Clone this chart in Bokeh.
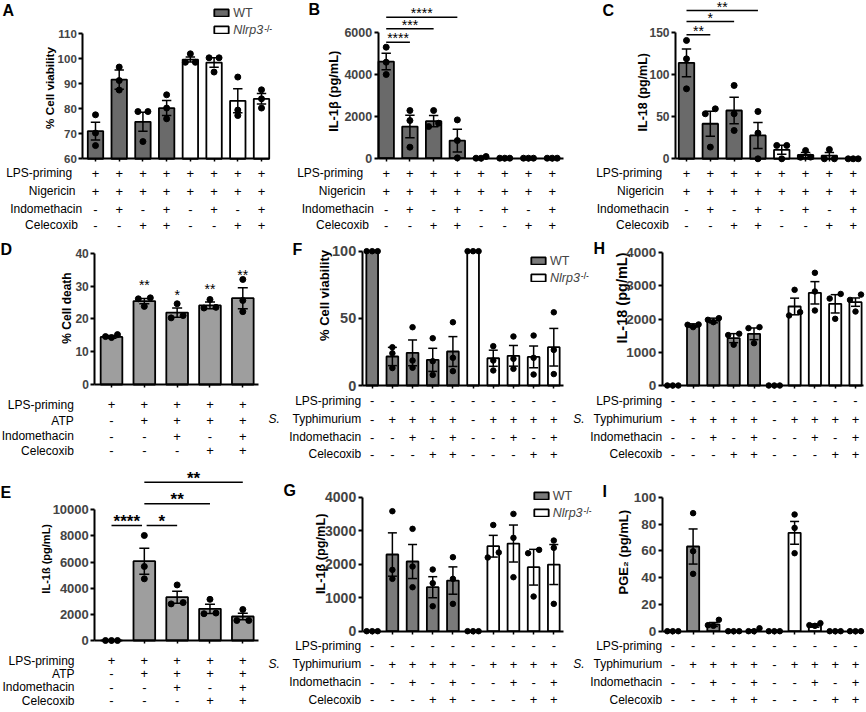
import math
from bokeh.plotting import figure
from bokeh.models import Range1d, LinearAxis, FixedTicker, ColumnDataSource, Legend, LegendItem
from bokeh.core.properties import value
from bokeh.embed import file_html
from bokeh.resources import INLINE

W, H = 866, 712
FONT = "Liberation Sans"

# ---------------- data ----------------
ROWS_NIG = ["LPS-priming", "Nigericin", "Indomethacin", "Celecoxib"]
SIGNS_NIG = [["+"] * 8, ["+"] * 8,
             ["-", "+", "-", "+", "-", "+", "-", "+"],
             ["-", "-", "+", "+", "-", "-", "+", "+"]]
ROWS_ATP = ["LPS-priming", "ATP", "Indomethacin", "Celecoxib"]
SIGNS_ATP = [["+"] * 5, ["-", "+", "+", "+", "+"],
             ["-", "-", "+", "-", "+"], ["-", "-", "-", "+", "+"]]
ROWS_STM = ["LPS-priming", "Typhimurium", "Indomethacin", "Celecoxib"]
SIGNS_STM = [["-"] * 10,
             ["-", "+", "+", "+", "+", "-", "+", "+", "+", "+"],
             ["-", "-", "+", "-", "+", "-", "-", "+", "-", "+"],
             ["-", "-", "-", "+", "+", "-", "-", "-", "+", "+"]]
GENO_8 = ["WT"] * 4 + ["Nlrp3"] * 4
GENO_5 = ["WT"] * 5
GENO_10 = ["WT"] * 5 + ["Nlrp3"] * 5

A_mean = [71.1, 91.7, 74.8, 80.3, 99.7, 98.5, 83.2, 84.0]
A_sem = [3.55, 3.85, 3.8, 3.0, 1.0, 1.9, 4.8, 2.1]
A_pts = [[77.6, 70.3, 65.3], [96.7, 91.3, 87.5], [78.9, 78.9, 66.9], [85.6, 80.3, 76.0],
         [102.0, 98.6, 98.6], [100.4, 100.4, 94.7], [92.7, 79.5, 77.3], [87.6, 84.0, 80.3]]
A_ticks = [60, 70, 80, 90, 100, 110]

B_mean = [4603, 1508, 1762, 841, 27, 0, 0, 0]
B_sem = [397, 532, 270, 540, 27, 0, 0, 0]
B_pts = [[5286, 4571, 3986], [2270, 1794, 524], [2270, 1508, 1667], [1825, 841, 16],
         [0, 80, 0], [0, 0, 0], [0, 0, 0], [0, 0, 0]]
B_ticks = [0, 2000, 4000, 6000]
B_sig = [(1, 2, "****"), (1, 3, "***"), (1, 4, "****")]

C_mean = [114.3, 41.7, 57.5, 27.8, 10.7, 4.5, 3.7, 0]
C_sem = [16.5, 14.9, 15.9, 15.5, 5.3, 3.0, 3.7, 0]
C_pts = [[140.9, 119.0, 83.3], [59.5, 53.6, 13.9], [87.3, 53.6, 33.7], [56.3, 30.6, 0],
         [15.9, 15.9, 0], [9.9, 2.0, 1.8], [11.1, 0, 0], [0, 0, 0]]
C_ticks = [0, 50, 100, 150]
C_sig = [(1, 2, "**"), (1, 3, "*"), (1, 4, "**")]

D_mean = [14.5, 25.4, 21.9, 24.1, 26.3]
D_sem = [0.4, 0.8, 1.4, 1.0, 3.2]
D_pts = [[14.6, 15.2, 14.3], [26.4, 26.1, 23.8], [24.6, 21.0, 20.3], [25.9, 23.5, 23.3],
         [32.0, 25.6, 22.2]]
D_ticks = [0, 10, 20, 30, 40]
D_stars = ["", "**", "*", "**", "**"]

E_mean = [0, 6071, 3316, 2423, 1837]
E_sem = [0, 995, 460, 357, 255]
E_pts = [[0, 0, 0], [8036, 5663, 4719], [4250, 2900, 2800], [3150, 2100, 2050],
         [2372, 1531, 1531]]
E_ticks = [0, 2000, 4000, 6000, 8000, 10000]
E_sig = [(1, 2, "****"), (2, 3, "*"), (2, 4, "**"), (2, 5, "**")]

F_mean = [100, 21.6, 24.3, 19.1, 25.3, 100, 20.3, 22.1, 21.3, 28.5]
F_sem = [0, 6.8, 9.6, 8.6, 11.1, 0, 6.0, 7.7, 8.1, 14.0]
F_pts = [[100, 100, 100], [28.5, 24.0, 13.0], [43.4, 18.6, 13.2], [35.2, 18.1, 7.9],
         [47.1, 20.6, 10.7], [100, 100, 100], [29.3, 18.6, 11.2], [36.5, 19.9, 12.4],
         [37.2, 20.6, 8.2], [54.5, 26.5, 8.5]]
F_ticks = [0, 50, 100]

G_mean = [0, 2289, 2080, 1313, 1512, 0, 2537, 2617, 1910, 1990]
G_sem = [0, 647, 508, 314, 408, 0, 324, 552, 533, 597]
G_pts = [[0, 0, 0], [3582, 1831, 1562], [3055, 1930, 1313], [1841, 1433, 746],
         [2209, 1562, 816], [0, 0, 0], [3170, 2350, 2200], [3502, 2786, 1612],
         [2428, 2328, 1035], [2706, 2488, 816]]
G_ticks = [0, 1000, 2000, 3000, 4000]

H_mean = [0, 1809, 1960, 1427, 1558, 0, 2382, 2794, 2462, 2513]
H_sem = [0, 50, 70, 136, 176, 0, 251, 337, 276, 126]
H_pts = [[0, 0, 0], [1760, 1840, 1830], [1910, 1980, 2030], [1560, 1520, 1230],
         [1759, 1729, 1276], [0, 0, 0], [2884, 2111, 2211], [3397, 2834, 2261],
         [2760, 2620, 2010], [2740, 2580, 2230]]
H_ticks = [0, 1000, 2000, 3000, 4000]

I_mean = [0, 63.2, 5.0, 0, 0.5, 0, 73.4, 4.2, 0, 0]
I_sem = [0, 13.1, 1.5, 0, 0.5, 0, 8.5, 1.2, 0, 0]
I_pts = [[0, 0, 0], [88.1, 59.7, 42.8], [8.5, 4.0, 4.5], [0, 0, 0], [2.2, 0, 0],
         [0, 0, 0], [87.1, 77.1, 58.2], [6.0, 4.0, 4.5], [0, 0, 0], [0, 0, 0]]
I_ticks = [0, 20, 40, 60, 80, 100]

PANELS = [
    dict(name="A", mean=A_mean, sem=A_sem, pts=A_pts, ticks=A_ticks, geno=GENO_8,
         rows=ROWS_NIG, signs=SIGNS_NIG, ylabel="% Cell viability"),
    dict(name="B", mean=B_mean, sem=B_sem, pts=B_pts, ticks=B_ticks, geno=GENO_8,
         rows=ROWS_NIG, signs=SIGNS_NIG, ylabel="IL-1β (pg/mL)", sig=B_sig),
    dict(name="C", mean=C_mean, sem=C_sem, pts=C_pts, ticks=C_ticks, geno=GENO_8,
         rows=ROWS_NIG, signs=SIGNS_NIG, ylabel="IL-18 (pg/mL)", sig=C_sig),
    dict(name="D", mean=D_mean, sem=D_sem, pts=D_pts, ticks=D_ticks, geno=GENO_5,
         rows=ROWS_ATP, signs=SIGNS_ATP, ylabel="% Cell death", stars=D_stars),
    dict(name="E", mean=E_mean, sem=E_sem, pts=E_pts, ticks=E_ticks, geno=GENO_5,
         rows=ROWS_ATP, signs=SIGNS_ATP, ylabel="IL-1ß (pg/mL)", sig=E_sig),
    dict(name="F", mean=F_mean, sem=F_sem, pts=F_pts, ticks=F_ticks, geno=GENO_10,
         rows=ROWS_STM, signs=SIGNS_STM, ylabel="% Cell viability"),
    dict(name="G", mean=G_mean, sem=G_sem, pts=G_pts, ticks=G_ticks, geno=GENO_10,
         rows=ROWS_STM, signs=SIGNS_STM, ylabel="IL-1β (pg/mL)"),
    dict(name="H", mean=H_mean, sem=H_sem, pts=H_pts, ticks=H_ticks, geno=GENO_10,
         rows=ROWS_STM, signs=SIGNS_STM, ylabel="IL-18 (pg/mL)"),
    dict(name="I", mean=I_mean, sem=I_sem, pts=I_pts, ticks=I_ticks, geno=GENO_10,
         rows=ROWS_STM, signs=SIGNS_STM, ylabel="PGE₂ (pg/mL)"),
]

# ---------------- layout / style (page pixels) ----------------
ROWS_TOP = [172.7, 190.7, 208.7, 224.5]
LAYOUT = {
    "A": dict(axis_x=82.3, c1=95, cn=261, xend=269, y0=158.3, ytop=33.3, rows_y=ROWS_TOP,
              row_right=[71.7, 75, 81.7, 77.3], ylab=(49, 87.5, 11.7), letter=(2, 10),
              tick_fs=11.5, wt="#6a6a6a", bw=0.65, dot=6, cap=4.7, jit=5.0,
              legend=(212.3, 10, 27.3)),
    "B": dict(axis_x=377.7, c1=385.7, cn=551.7, xend=563.3, y0=157.7, ytop=31.7, rows_y=ROWS_TOP,
              row_right=[362.7, 365, 373.3, 368.3], ylab=(332.5, 90.8, 12.8), letter=(308, 9),
              tick_fs=12.5, wt="#6a6a6a", bw=0.65, dot=6, cap=4.7, jit=5.0,
              levels=[41.7, 28.3, 16.7], star_fs=14, star_bold=False),
    "C": dict(axis_x=675, c1=686, cn=852.7, xend=860, y0=158.3, ytop=32.3, rows_y=ROWS_TOP,
              row_right=[661.7, 663.3, 668.3, 668.3], ylab=(642.5, 91.7, 12.5), letter=(602, 10),
              tick_fs=12, wt="#6a6a6a", bw=0.65, dot=6, cap=4.7, jit=5.0,
              levels=[34.3, 21, 10], star_fs=14, star_bold=False),
    "D": dict(axis_x=94.3, c1=111, cn=242.3, xend=258.3, y0=384, ytop=252.7,
              rows_y=[404, 420, 435.7, 450], row_right=[73.3] * 4, ylab=(66.7, 307.5, 12),
              letter=(0, 249), tick_fs=12, wt="#9e9e9e", bw=0.66, dot=6, cap=5, jit=6.0,
              star_fs=14),
    "E": dict(axis_x=94.3, c1=111, cn=242.3, xend=258.3, y0=640, ytop=509.3,
              rows_y=[660, 673.3, 686.7, 700], row_right=[74] * 4, ylab=(45.8, 558.3, 11),
              letter=(0, 492), tick_fs=13, wt="#9e9e9e", bw=0.66, dot=6, cap=5, jit=6.0,
              levels=[525, 525, 503.3, 481.7], star_fs=17, star_bold=True),
    "F": dict(axis_x=361.7, c1=371.7, cn=553.3, xend=563.3, y0=385, ytop=250.7,
              rows_y=[400, 418.8, 436.5, 453.5], row_right=[360.7] * 4, s_x=268,
              ylab=(323.8, 295, 13), letter=(292, 249), tick_fs=14.5, wt="#7a7a7a", bw=0.58,
              dot=5.5, cap=4.5, jit=5.5, legend=(529, 258.3, 275)),
    "G": dict(axis_x=361.7, c1=371.7, cn=553.3, xend=563.3, y0=630.7, ytop=496.7,
              rows_y=[645, 663.5, 681.5, 699], row_right=[360.7] * 4, s_x=268,
              ylab=(320.8, 553.3, 12.7), letter=(283, 490), tick_fs=14, wt="#7a7a7a", bw=0.58,
              dot=5.5, cap=4.5, jit=5.5, legend=(531.7, 493.3, 510)),
    "H": dict(axis_x=661.7, c1=672.3, cn=855, xend=863.3, y0=385, ytop=252.3,
              rows_y=[400, 418.8, 436.5, 453.5], row_right=[661.7] * 4, s_x=572.7,
              ylab=(621.7, 297.5, 14.5), letter=(593, 248), tick_fs=13.5, wt="#8a8a8a", bw=0.6,
              dot=5.5, cap=4.5, jit=5.5),
    "I": dict(axis_x=661.7, c1=672.3, cn=855, xend=863.3, y0=630.7, ytop=496.7,
              rows_y=[645, 663.5, 681.5, 699], row_right=[661.7] * 4, s_x=572.7,
              ylab=(623.3, 551.7, 13), letter=(602, 491), tick_fs=13.5, wt="#8a8a8a", bw=0.6,
              dot=5.5, cap=4.5, jit=5.5),
}

TXT = dict(text_font=value(FONT), text_color="black")
SIGN_FS = "13px"
LABEL_FS = "12px"


def jitter(vals, px_per_unit, w):
    order = sorted(range(len(vals)), key=lambda i: vals[i])
    offs = [0.0] * len(vals)
    clusters, cur = [], [order[0]]
    for i in order[1:]:
        if (vals[i] - vals[cur[-1]]) * px_per_unit < 5.5:
            cur.append(i)
        else:
            clusters.append(cur)
            cur = [i]
    clusters.append(cur)
    for c in clusters:
        if len(c) == 2:
            offs[c[0]], offs[c[1]] = -w, w
        elif len(c) >= 3:
            offs[c[0]], offs[c[1]], offs[c[2]] = 0.0, -w, w
    return offs


p = figure(width=W, height=H, x_range=Range1d(0, W), y_range=Range1d(H, 0),
           x_axis_location=None, y_axis_location=None, output_backend="svg",
           toolbar_location=None, min_border=0)
p.outline_line_color = None
p.background_fill_color = "white"
p.border_fill_color = "white"
p.xgrid.grid_line_color = None
p.ygrid.grid_line_color = None
p.xgrid.visible = False
p.ygrid.visible = False

extra_x, extra_y, geo = {}, {}, {}
for P in PANELS:
    L = LAYOUT[P["name"]]
    n = len(P["mean"])
    b = (L["cn"] - L["c1"]) / (n - 1)
    a = L["c1"] - b
    ymin, ymax = P["ticks"][0], P["ticks"][-1]
    k = (L["y0"] - L["ytop"]) / (ymax - ymin)
    extra_x[P["name"] + "x"] = Range1d((0 - a) / b, (W - a) / b)
    extra_y[P["name"] + "y"] = Range1d(ymin + (L["y0"] - H) / k, ymin + L["y0"] / k)
    geo[P["name"]] = (a, b, k)
p.extra_x_ranges = extra_x
p.extra_y_ranges = extra_y

for P in PANELS:
    nm = P["name"]
    L = LAYOUT[nm]
    a, b, k = geo[nm]
    xn, yn = nm + "x", nm + "y"
    n = len(P["mean"])
    xs = list(range(1, n + 1))
    ymin, ymax = P["ticks"][0], P["ticks"][-1]
    x_axis = (L["axis_x"] - a) / b
    x_end = (L["xend"] - a) / b
    rr = dict(x_range_name=xn, y_range_name=yn)

    # bars
    rends = {}
    for geno, color in (("WT", L["wt"]), ("Nlrp3", "white")):
        idx = [i for i in range(n) if P["geno"][i] == geno]
        if not idx:
            continue
        src = ColumnDataSource(dict(x=[xs[i] for i in idx], top=[P["mean"][i] for i in idx]))
        rends[geno] = p.vbar(x="x", top="top", bottom=ymin, width=L["bw"], source=src,
                             fill_color=color, line_color="black", line_width=1.8, **rr)

    # error bars
    up = [m + s for m, s in zip(P["mean"], P["sem"])]
    lo = [max(ymin, m - s) for m, s in zip(P["mean"], P["sem"])]
    cw = L["cap"] / b
    p.segment(x0=xs, x1=xs, y0=lo, y1=up, line_color="black", line_width=1.5, **rr)
    p.segment(x0=[x - cw for x in xs], x1=[x + cw for x in xs], y0=up, y1=up,
              line_color="black", line_width=1.5, **rr)
    p.segment(x0=[x - cw for x in xs], x1=[x + cw for x in xs], y0=lo, y1=lo,
              line_color="black", line_width=1.5, **rr)

    # dots
    dx, dy = [], []
    for i in range(n):
        offs = jitter(P["pts"][i], k, L["jit"] / b)
        for v, o in zip(P["pts"][i], offs):
            dx.append(xs[i] + o)
            dy.append(v)
    p.scatter(x=dx, y=dy, size=L["dot"], fill_color="black", line_color="black", **rr)

    # axes
    yax = LinearAxis(x_range_name=xn, y_range_name=yn, fixed_location=x_axis,
                     bounds=(ymin, ymax), ticker=FixedTicker(ticks=P["ticks"], minor_ticks=[]))
    yax.axis_line_width = 2
    yax.major_tick_line_width = 2
    yax.major_tick_out = 4
    yax.major_tick_in = 0
    yax.minor_tick_out = 0
    yax.major_label_standoff = 2
    yax.major_label_text_font = FONT
    yax.major_label_text_font_style = "bold"
    yax.major_label_text_font_size = f"{L['tick_fs']}px"
    p.add_layout(yax, "left")

    xax = LinearAxis(x_range_name=xn, y_range_name=yn, fixed_location=ymin,
                     bounds=(x_axis, x_end), ticker=FixedTicker(ticks=xs, minor_ticks=[]))
    xax.axis_line_width = 2
    xax.major_tick_line_width = 1.5
    xax.major_tick_out = 3
    xax.major_tick_in = 0
    xax.minor_tick_out = 0
    xax.major_label_text_font_size = "0px"
    p.add_layout(xax, "below")

    # axis title
    lx, ly, lfs = L["ylab"]
    p.text(x=[lx], y=[ly], text=[P["ylabel"]], angle=math.pi / 2, text_align="center",
           text_baseline="middle", text_font_style="bold", text_font_size=f"{lfs}px", **TXT)

    # panel letter
    px_, py_ = L["letter"]
    p.text(x=[px_], y=[py_], text=[nm], text_align="left", text_baseline="middle",
           text_font_style="bold", text_font_size="16px", **TXT)

    # treatment table
    for r, (lab, signs) in enumerate(zip(P["rows"], P["signs"])):
        ry = L["rows_y"][r]
        p.text(x=xs, y=[ry] * n, text=signs, x_range_name=xn, text_align="center",
               text_baseline="middle", text_font_size=SIGN_FS, **TXT)
        p.text(x=[L["row_right"][r]], y=[ry], text=[lab], text_align="right",
               text_baseline="middle", text_font_size=LABEL_FS, **TXT)
        if lab == "Typhimurium":
            p.text(x=[L["s_x"]], y=[ry], text=["S."], text_align="left",
                   text_baseline="middle", text_font_size=LABEL_FS, text_font_style="italic", **TXT)

    # significance brackets
    if "sig" in P:
        lv = L["levels"]
        x0s, x1s, ys, tx, ty, tt = [], [], [], [], [], []
        for i, (s, e, lab) in enumerate(P["sig"]):
            x0, x1 = float(s), float(e)
            for j, (s2, e2, _) in enumerate(P["sig"]):
                if j != i and abs(lv[j] - lv[i]) < 0.5:
                    if s2 == e:
                        x1 -= 0.07
                    if e2 == s:
                        x0 += 0.07
            x0s.append(x0)
            x1s.append(x1)
            ys.append(lv[i])
            tx.append((x0 + x1) / 2)
            ty.append(lv[i] - 4)
            tt.append(lab)
        p.segment(x0=x0s, x1=x1s, y0=ys, y1=ys, x_range_name=xn, line_color="black",
                  line_width=1.5)
        p.text(x=tx, y=ty, text=tt, x_range_name=xn, text_align="center",
               text_baseline="alphabetic", text_font_size=f"{L['star_fs']}px",
               text_font_style="bold" if L["star_bold"] else "normal", **TXT)

    if "stars" in P:
        p.text(x=xs, y=up, text=P["stars"], y_offset=-13, text_align="center",
               text_baseline="middle", text_font_size=f"{L['star_fs']}px", **TXT, **rr)

    # legend
    if "legend" in L:
        bx, by1, by2 = L["legend"]
        for lab, geno, top, italic in (("WT", "WT", by1, False), ("Nlrp3", "Nlrp3", by2, True)):
            lg = Legend(items=[LegendItem(label=lab, renderers=[rends[geno]])],
                        location=(bx, H - top - 9.5), orientation="vertical", padding=0,
                        margin=0, spacing=0, glyph_width=18, glyph_height=9, label_height=9,
                        label_standoff=3, border_line_color=None, background_fill_alpha=0,
                        label_text_font=FONT, label_text_font_size="12.5px",
                        label_text_baseline="middle",
                        label_text_font_style="italic" if italic else "normal")
            p.add_layout(lg)
        sx = bx + 18 + 3 + 2.389 * 12.5 + 0.5
        p.text(x=[sx], y=[by2 + 4.75 - 4], text=["-/-"], text_align="left",
               text_baseline="middle", text_font_size="8.5px", **TXT)

open("out.html", "w").write(file_html(p, INLINE))
